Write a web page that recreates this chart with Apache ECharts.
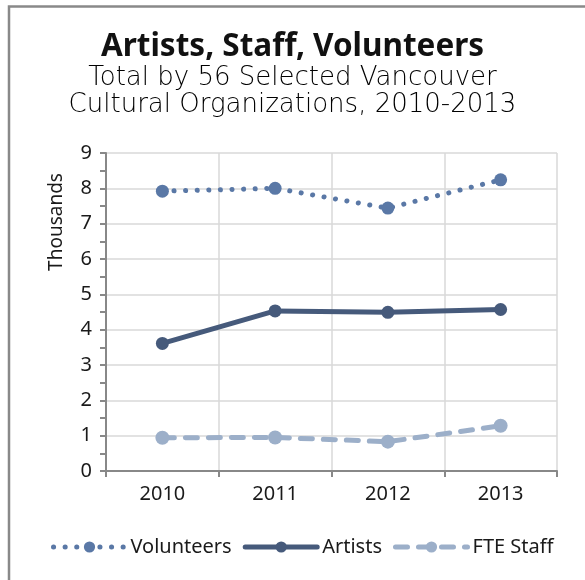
<!DOCTYPE html>
<html>
<head>
<meta charset="utf-8">
<script src="https://cdn.jsdelivr.net/npm/echarts@6/dist/echarts.min.js"></script>
<style>
  html, body { margin: 0; padding: 0; background: #fff; }
  #chart { width: 585px; height: 580px; }
</style>
</head>
<body>
<div id="chart"></div>
<script>
// Years on the category axis
const years = ['2010', '2011', '2012', '2013'];
// Totals in thousands
const volunteers = [7.92, 8.0, 7.44, 8.24];
const artists = [3.61, 4.53, 4.49, 4.57];
const fteStaff = [0.94, 0.95, 0.83, 1.28];

const titleText = 'Artists, Staff, Volunteers';
const subtitleLines = ['Total by 56 Selected Vancouver', 'Cultural Organizations, 2010-2013'];
const yAxisTitle = 'Thousands';

const colors = { volunteers: '#5a78a6', artists: '#465a7b', fte: '#9cafc9' };
const dotted = [0.1, 11.5];
const dashed = [12, 11];
const labelFont = 'Noto Sans';
const textColor = '#1a1a1a';

const chart = echarts.init(document.getElementById('chart'), null, { renderer: 'canvas' });

chart.setOption({
  animation: false,
  backgroundColor: '#fff',
  graphic: [
    {
      // outer frame, open at the right and bottom edges of the canvas
      type: 'rect',
      shape: { x: 9, y: 6.5, width: 700, height: 700 },
      style: { fill: 'none', stroke: '#898989', lineWidth: 2.5 },
      silent: true
    },
    {
      type: 'text',
      x: 57,
      y: 222,
      rotation: Math.PI / 2,
      style: {
        text: yAxisTitle,
        fontFamily: labelFont,
        fontSize: 19,
        fill: textColor,
        align: 'center',
        verticalAlign: 'middle'
      },
      silent: true
    }
  ],
  title: [
    {
      text: titleText,
      left: 'center',
      top: 26,
      textStyle: { fontFamily: 'Noto Sans', fontWeight: 'bold', fontSize: 31.5, color: '#111' }
    },
    {
      text: subtitleLines.join('\n'),
      left: 'center',
      top: 60,
      textStyle: { fontFamily: 'DejaVu Sans', fontWeight: 200, fontSize: 26, lineHeight: 27, color: '#000' }
    }
  ],
  legend: {
    bottom: 18,
    left: 46,
    itemWidth: 72,
    itemHeight: 14,
    itemGap: 11,
    textStyle: { fontFamily: labelFont, fontSize: 20, color: textColor },
    data: [
      { name: 'Volunteers', lineStyle: { width: 5, type: dotted, cap: 'round' } },
      { name: 'Artists', lineStyle: { width: 5, cap: 'round' } },
      { name: 'FTE Staff', lineStyle: { width: 5, type: dashed, cap: 'round' } }
    ]
  },
  grid: { left: 106, right: 28, top: 153, bottom: 109 },
  xAxis: {
    type: 'category',
    data: years,
    boundaryGap: true,
    axisLine: { lineStyle: { color: '#888', width: 2 } },
    axisTick: { show: true, interval: 0, length: 6, lineStyle: { color: '#888', width: 2 } },
    splitLine: { show: true, interval: 0, lineStyle: { color: '#d9d9d9', width: 1.5 } },
    axisLabel: { fontFamily: labelFont, fontSize: 20, color: textColor, margin: 13 }
  },
  yAxis: {
    type: 'value',
    min: 0,
    max: 9,
    interval: 1,
    axisLine: { show: true, lineStyle: { color: '#888', width: 2 } },
    axisTick: { show: true, length: 6, lineStyle: { color: '#888', width: 2 } },
    minorTick: { show: true, splitNumber: 2, length: 6, lineStyle: { color: '#888', width: 2 } },
    splitLine: { show: true, lineStyle: { color: '#d9d9d9', width: 1.5 } },
    axisLabel: { fontFamily: labelFont, fontSize: 20, color: textColor, margin: 14 }
  },
  series: [
    {
      name: 'Volunteers',
      type: 'line',
      data: volunteers,
      symbol: 'circle',
      symbolSize: 13,
      itemStyle: { color: colors.volunteers },
      lineStyle: { color: colors.volunteers, width: 5, type: dotted, cap: 'round' },
      z: 3
    },
    {
      name: 'Artists',
      type: 'line',
      data: artists,
      symbol: 'circle',
      symbolSize: 13,
      itemStyle: { color: colors.artists },
      lineStyle: { color: colors.artists, width: 5, cap: 'round' },
      z: 4
    },
    {
      name: 'FTE Staff',
      type: 'line',
      data: fteStaff,
      symbol: 'circle',
      symbolSize: 14,
      itemStyle: { color: colors.fte },
      lineStyle: { color: colors.fte, width: 5, type: dashed, cap: 'round' },
      z: 2
    }
  ]
});
</script>
</body>
</html>
